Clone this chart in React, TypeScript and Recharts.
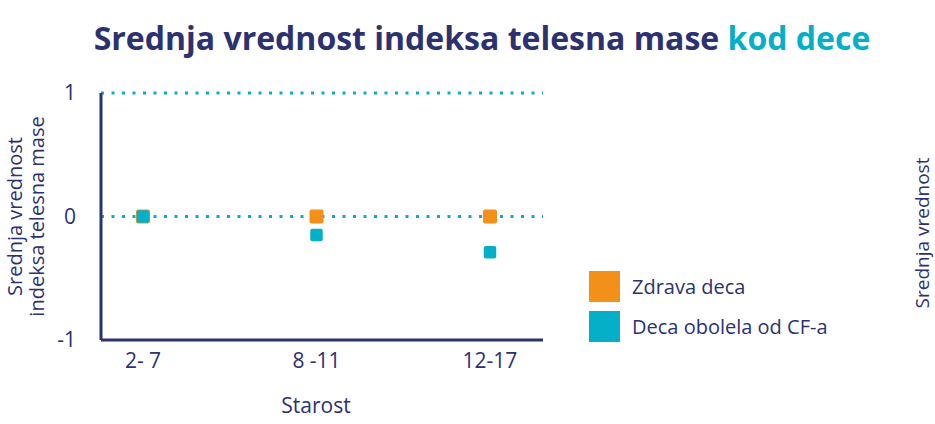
import {
    ScatterChart,
    Scatter,
    XAxis,
    YAxis,
    ZAxis,
    ReferenceLine
} from 'recharts';

const ageGroups = ['2- 7', '8 -11', '12-17'];
const healthyValues = [0, 0, 0];
const cfValues = [0, -0.15, -0.29];
const yTicks = [-1, 0, 1];
const gridValues = [1, 0];
const seriesNames = ['Zdrava deca', 'Deca obolela od CF-a'];

const NAVY = '#2c3170';
const TEAL = '#05afc7';
const ORANGE = '#f39019';
const seriesColors = [ORANGE, TEAL];
const FONT = '"Open Sans", sans-serif';

const healthyData = ageGroups.map((age, i) => ({ age, value: healthyValues[i] }));
const cfData = ageGroups.map((age, i) => ({ age, value: cfValues[i] }));

const squareShape = (side: number) => (props: any) => {
    const { cx, cy, fill } = props;
    return <rect x={cx - side / 2} y={cy - side / 2} width={side} height={side} rx={2} fill={fill} />;
};

const YLabel = (props: any) => {
    const { viewBox } = props;
    const cy = viewBox.y + viewBox.height / 2;
    return (
        <text
            transform={`translate(${viewBox.x + 22}, ${cy}) rotate(-90)`}
            textAnchor="middle"
            fill={NAVY}
            fontSize={20}
            fontFamily={FONT}
        >
            <tspan x={0} dy={0}>Srednja vrednost</tspan>
            <tspan x={0} dy={22}>indeksa telesna mase</tspan>
        </text>
    );
};

const XLabel = (props: any) => {
    const { viewBox } = props;
    return (
        <text
            x={viewBox.x + viewBox.width / 2 - 6}
            y={viewBox.y + 73}
            textAnchor="middle"
            fill={NAVY}
            fontSize={21}
            fontFamily={FONT}
        >
            Starost
        </text>
    );
};

export default function App() {
    return (
        <div style={{ position: 'absolute', left: 0, top: 0, width: 935, height: 424, background: '#fff' }}>
            <div
                style={{
                    position: 'absolute',
                    top: 16,
                    left: 0,
                    width: 964,
                    textAlign: 'center',
                    fontFamily: FONT,
                    fontWeight: 700,
                    fontSize: 32,
                    color: NAVY,
                    whiteSpace: 'nowrap'
                }}
            >
                Srednja vrednost indeksa telesna mase <span style={{ color: TEAL }}>kod dece</span>
            </div>
            <div
                style={{
                    position: 'absolute',
                    left: 922,
                    top: 233,
                    transform: 'translate(-50%, -50%) rotate(-90deg)',
                    fontFamily: FONT,
                    fontSize: 19,
                    color: NAVY,
                    whiteSpace: 'nowrap'
                }}
            >
                Srednja vrednost
            </div>
            <div style={{ position: 'absolute', left: 589, top: 266 }}>
                {seriesNames.map((name, i) => (
                    <div key={name} style={{ display: 'flex', alignItems: 'center', height: 40 }}>
                        <div style={{ width: 31, height: 31, background: seriesColors[i], marginRight: 12 }} />
                        <span style={{ color: NAVY, fontSize: 20, fontFamily: FONT }}>{name}</span>
                    </div>
                ))}
            </div>
            <ScatterChart
                width={935}
                height={424}
                margin={{ top: 93, right: 392, left: 0, bottom: 24 }}
            >
                <XAxis
                    dataKey="age"
                    type="category"
                    scale="point"
                    allowDuplicatedCategory={false}
                    padding={{ left: 42, right: 53 }}
                    height={60}
                    axisLine={{ stroke: NAVY, strokeWidth: 3 }}
                    tickLine={false}
                    tickSize={0}
                    tickMargin={13}
                    tick={{ fill: NAVY, fontSize: 21, fontFamily: FONT }}
                    label={{ content: XLabel }}
                />
                <YAxis
                    dataKey="value"
                    type="number"
                    domain={[-1, 1]}
                    ticks={yTicks}
                    width={101}
                    axisLine={{ stroke: NAVY, strokeWidth: 3 }}
                    tickLine={false}
                    tickSize={0}
                    tickMargin={25}
                    tick={{ fill: NAVY, fontSize: 21, fontFamily: FONT }}
                    label={{ content: YLabel }}
                />
                <ZAxis range={[170, 170]} />
                {gridValues.map((v) => (
                    <ReferenceLine
                        key={v}
                        y={v}
                        stroke={TEAL}
                        strokeWidth={3}
                        strokeDasharray="3 7.5"
                    />
                ))}
                <Scatter
                    name={seriesNames[0]}
                    data={healthyData}
                    fill={ORANGE}
                    shape={squareShape(14)}
                    isAnimationActive={false}
                />
                <Scatter
                    name={seriesNames[1]}
                    data={cfData}
                    fill={TEAL}
                    shape={squareShape(12.5)}
                    isAnimationActive={false}
                />
            </ScatterChart>
        </div>
    );
}
